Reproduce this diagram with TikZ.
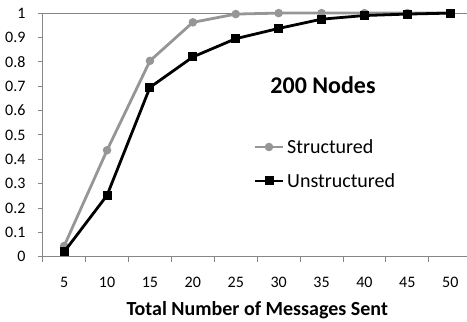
\documentclass[tikz,border=0pt]{standalone}
\usepackage{fontspec}
\setmainfont{Carlito}
\definecolor{axisgray}{RGB}{134,134,134}
\definecolor{seriesgray}{RGB}{150,150,150}
\begin{document}
\begin{tikzpicture}[x=1pt,y=1pt,
  ticklabel/.style={font=\fontsize{16}{16}\selectfont},
  legendtext/.style={font=\fontsize{20}{20}\selectfont,anchor=west,inner sep=0pt},
  structline/.style={seriesgray,line width=2.8pt,line join=round},
  unstructline/.style={black,line width=2.8pt,line join=round}]
\useasboundingbox (0,0) rectangle (467,322);
\begin{scope}[shift={(42.7,65.3)},x=42.9pt,y=243.6pt]
% axes
\draw[axisgray,line width=0.9pt] (0,1) -- (10,1);
\draw[axisgray,line width=0.9pt] (0,0) -- (0,1);
\draw[axisgray,line width=0.9pt] (0,0) -- (10,0);
\foreach \i in {0,...,10}
  \draw[axisgray,line width=0.9pt] (\i,0) -- ++(0,-5pt);
\foreach \k in {0,...,10}
  \draw[axisgray,line width=0.9pt] (0,{\k/10}) -- ++(-5pt,0);
\foreach \lab [count=\k from 0] in {0,0.1,0.2,0.3,0.4,0.5,0.6,0.7,0.8,0.9,1}
  \node[ticklabel,anchor=east,inner sep=0pt] (ylab-\k) at ([xshift=-17pt]0,{\k/10}) {\lab};
\foreach \lab [count=\i] in {5,10,15,20,25,30,35,40,45,50}
  \node[ticklabel,inner sep=0pt] (xlab-\i) at ([yshift=-26pt]{\i-0.5},0) {\lab};
\node[font=\fontsize{20}{20}\selectfont\bfseries] (xtitle) at ([yshift=-53pt]5,0) {Total Number of Messages Sent};

% structured
\def\pointset{(0.5,0.044),(1.5,0.437),(2.5,0.804),(3.5,0.962),(4.5,0.996),(5.5,1),(6.5,1),(7.5,1),(8.5,1),(9.5,1)}
\foreach \x[count=\i] in \pointset
  \path \x coordinate (s-\i);
\draw[structline] (s-1) \foreach \i in {2,...,10}{ -- (s-\i) };
\foreach \i in {1,...,10}
  \fill[seriesgray] (s-\i) circle(4.3pt);

% unstructured
\def\pointset{(0.5,0.02),(1.5,0.252),(2.5,0.695),(3.5,0.82),(4.5,0.895),(5.5,0.937),(6.5,0.975),(7.5,0.99),(8.5,0.996),(9.5,1)}
\foreach \x[count=\i] in \pointset
  \path \x coordinate (u-\i);
\draw[unstructline] (u-1) \foreach \i in {2,...,10}{ -- (u-\i) };
\foreach \i in {1,...,10}
  \fill[black] ([shift={(-4.5pt,-4.5pt)}]u-\i) rectangle ++(9pt,9pt);
\end{scope}

% title and legend
\node[font=\fontsize{24}{24}\selectfont\bfseries] (title) at (323,237) {200 Nodes};
\coordinate (ls-a) at (255,175);
\coordinate (ls-b) at (283,175);
\draw[structline] (ls-a) -- (ls-b);
\fill[seriesgray] (269,175) circle(4.3pt);
\node[legendtext] (ls-text) at (287,175) {Structured};
\coordinate (lu-a) at (255,141);
\coordinate (lu-b) at (283,141);
\draw[unstructline] (lu-a) -- (lu-b);
\fill[black] (264.5,136.5) rectangle ++(9pt,9pt);
\node[legendtext] (lu-text) at (287,141) {Unstructured};
\end{tikzpicture}
\end{document}
